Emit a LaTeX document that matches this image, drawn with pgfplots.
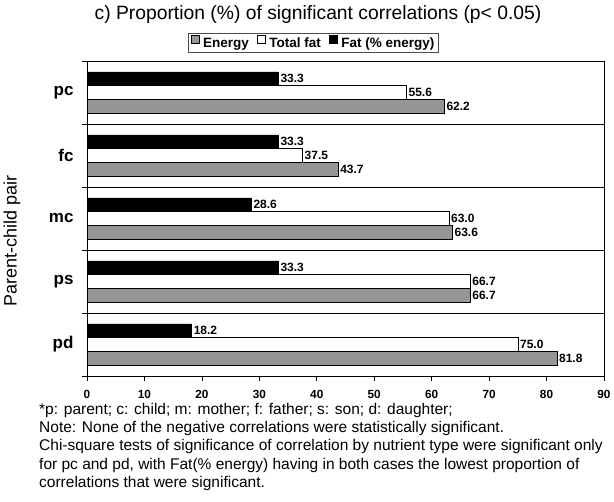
\documentclass[border=0pt]{standalone}
\usepackage{fontspec}
\setmainfont{Liberation Sans}
\usepackage{pgfplots}
\pgfplotsset{compat=1.18}
\definecolor{engray}{RGB}{150,150,150}
\pgfplotsset{mylegend/.style={legend image code/.code={\draw[##1, line width=0.5bp] (0bp,0bp) rectangle (8bp,8bp);}}}
\begin{document}
\begin{tikzpicture}
\useasboundingbox (0,0) rectangle (614bp,502bp);
\begin{axis}[
 at={(87bp,126bp)}, anchor=south west,
 scale only axis, width=517bp, height=315bp,
 xbar, bar width=13.7bp,
 xmin=0, xmax=90, ymin=-0.5, ymax=4.5,
 xtick={0,10,...,90},
 ytick={-0.5,0.5,1.5,2.5,3.5,4.5}, yticklabels={},
 ymajorgrids, grid style={black, line width=0.6bp},
 extra y ticks={0,1,2,3,4},
 extra y tick labels={pd,ps,mc,fc,pc},
 extra y tick style={grid=none, major tick length=0pt,
   yticklabel style={font=\fontsize{17bp}{19bp}\selectfont\bfseries, xshift=-10bp}},
 tick align=outside, major tick length=5bp,
 xtick pos=left, ytick pos=left,
 axis line style={line width=0.6bp},
 tick style={black, line width=0.6bp},
 /pgf/number format/assume math mode=true,
 tick label style={font=\fontsize{11.8bp}{13bp}\selectfont\bfseries},
 xticklabel style={yshift=-6bp},
 ylabel={Parent-child pair},
 ylabel style={at={(axis description cs:-0.145,0.43)}, anchor=center, font=\fontsize{18bp}{20bp}\selectfont},
 nodes near coords={\pgfmathprintnumber[fixed,fixed zerofill,precision=1]{\pgfplotspointmeta}},
 nodes near coords style={font=\fontsize{12bp}{13bp}\selectfont\bfseries, anchor=west, inner sep=2bp, text=black},
 legend columns=3,
 legend style={at={(axis description cs:0.438,1.057)}, anchor=center, draw=black!70, line width=0.6bp,
   font=\fontsize{13.5bp}{15bp}\selectfont\bfseries, inner xsep=2bp, inner ysep=1.5bp,
   nodes={inner sep=2bp},
   /tikz/every odd column/.append style={column sep=2bp},
   /tikz/every even column/.append style={column sep=6bp}},
]
\addplot[fill=engray, draw=black, line width=0.5bp, bar shift=-13.7bp, mylegend] coordinates {(81.8,0) (66.7,1) (63.6,2) (43.7,3) (62.2,4)};
\addlegendentry{Energy}
\addplot[fill=white, draw=black, line width=0.5bp, bar shift=0bp, mylegend] coordinates {(75.0,0) (66.7,1) (63.0,2) (37.5,3) (55.6,4)};
\addlegendentry{Total fat}
\addplot[fill=black, draw=black, line width=0.5bp, bar shift=13.7bp, mylegend] coordinates {(18.2,0) (33.3,1) (28.6,2) (33.3,3) (33.3,4)};
\addlegendentry{Fat (\% energy)}
\end{axis}
\node[anchor=base, font=\fontsize{19.3bp}{22bp}\selectfont] at (318bp,482.5bp) {c) Proportion (\%) of significant correlations (p< 0.05)};
\begin{scope}[every node/.style={anchor=base west, inner sep=0pt, font=\fontsize{15.5bp}{17bp}\selectfont}]
\node at (39bp,87bp) {*p: parent; c: child; m: mother; f: father; s: son; d: daughter;};
\node at (39bp,69bp) {Note: None of the negative correlations were statistically significant.};
\node at (39bp,51bp) {Chi-square tests of significance of correlation by nutrient type were significant only};
\node at (39bp,33bp) {for pc and pd, with Fat(\% energy) having in both cases the lowest proportion of};
\node at (39bp,15bp) {correlations that were significant.};
\end{scope}
\end{tikzpicture}
\end{document}
